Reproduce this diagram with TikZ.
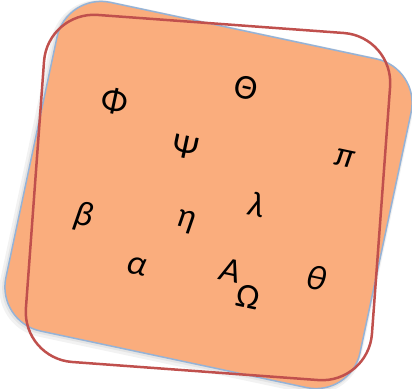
\documentclass[tikz,border=0pt]{standalone}
\usepackage{fontspec}
\setmainfont{Carlito}
\definecolor{boxfill}{RGB}{250,173,125}
\definecolor{boxedge}{RGB}{149,179,215}
\definecolor{redline}{RGB}{192,80,77}
\begin{document}
\begin{tikzpicture}[x=1pt,y=1pt,
  card/.style={rounded corners=45pt, minimum width=362pt, minimum height=336pt, inner sep=0pt, rotate=-12},
  glyph/.style={inner sep=0pt, rotate=-12, font=\fontsize{35}{40}\selectfont},
  lglyph/.style={glyph, font=\fontsize{35}{40}\selectfont\itshape}]
\useasboundingbox (0,0) rectangle (412,388);
% soft shadow
\node[card, draw=black, draw opacity=0.05, line width=7pt] (shadowA) at (206.5,191) {};
\node[card, draw=black, draw opacity=0.06, line width=3.5pt] (shadowB) at (207.5,192) {};
% orange card
\node[card, fill=boxfill, draw=boxedge, line width=1.5pt] (card) at (208.5,193) {};
% red outline
\node[rounded corners=50pt, minimum width=347pt, minimum height=348pt, inner sep=0pt, rotate=-4.2, draw=redline, line width=2.5pt] (frame) at (208,190.5) {};
% letters
\node[glyph] (Phi) at (115,287) {Φ};
\node[glyph] (Theta) at (246,300) {Θ};
\node[glyph] (Psi) at (186,241) {Ψ};
\node[lglyph] (pi) at (345,230) {π};
\node[lglyph] (beta) at (83,171) {β};
\node[lglyph] (eta) at (186,166) {η};
\node[lglyph] (lambda) at (257,183) {λ};
\node[lglyph] (alpha) at (137,122) {α};
\node[lglyph] (A) at (231,117) {A};
\node[glyph] (Omega) at (248,91) {Ω};
\node[lglyph] (theta) at (317,110) {θ};
\end{tikzpicture}
\end{document}
